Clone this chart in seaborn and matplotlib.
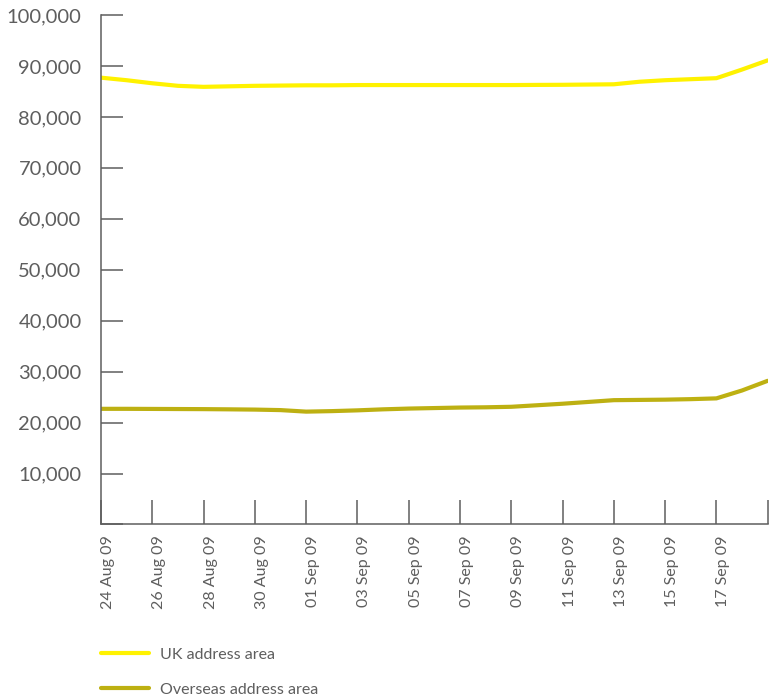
import pandas as pd
import matplotlib.pyplot as plt
import seaborn as sns

# Datos diarios
dates = pd.date_range('2009-08-24', '2009-09-19', freq='D')

uk_values = [87700, 87200, 86600, 86100, 85900, 86000, 86100, 86150, 86200,
             86200, 86250, 86250, 86250, 86250, 86250, 86250, 86250, 86280,
             86300, 86350, 86400, 86900, 87200, 87400, 87600, 89300, 91100]

overseas_values = [22700, 22700, 22680, 22660, 22640, 22600, 22550, 22450, 22150,
                   22250, 22400, 22600, 22750, 22850, 22950, 23000, 23100, 23400,
                   23700, 24050, 24400, 24450, 24500, 24600, 24750, 26300, 28200]

series_names = ['UK address area', 'Overseas address area']
series_colors = ['#FFF200', '#BDB012']

tick_dates = pd.date_range('2009-08-24', '2009-09-19', freq='2D')
tick_labels = [d.strftime('%d %b %y') for d in tick_dates[:-1]] + ['']
y_ticks = list(range(0, 100001, 10000))
y_labels = [''] + [f'{v:,}' for v in y_ticks[1:]]

df = pd.DataFrame({
    'date': list(dates) * 2,
    'value': uk_values + overseas_values,
    'series': [series_names[0]] * len(dates) + [series_names[1]] * len(dates),
})

sns.set_style('white')
plt.rcParams['font.family'] = ['Lato', 'DejaVu Sans']
grey = '#5e5e5e'

fig = plt.figure(figsize=(7.77, 6.98), dpi=100)
ax = fig.add_axes([0.13, 0.2486, 0.858, 0.7299])

sns.lineplot(data=df, x='date', y='value', hue='series',
             palette=dict(zip(series_names, series_colors)),
             linewidth=3, ax=ax)

ax.set_xlim(dates[0], dates[-1])
ax.set_ylim(0, 100000)
ax.set_xticks(tick_dates)
ax.set_xticklabels(tick_labels, rotation=90, ha='left', va='top',
                   fontsize=11.5, color=grey)
ax.set_yticks(y_ticks)
ax.set_yticklabels(y_labels, fontsize=14.5, color=grey)
ax.set_xlabel('')
ax.set_ylabel('')

ax.tick_params(axis='x', bottom=True, direction='in', length=17, width=1.1,
               color=grey, pad=8)
ax.tick_params(axis='y', left=True, direction='in', length=16, width=1.1,
               color=grey, pad=14)

for side in ['top', 'right']:
    ax.spines[side].set_visible(False)
for side in ['left', 'bottom']:
    ax.spines[side].set_color(grey)
    ax.spines[side].set_linewidth(1.1)

leg = ax.legend(loc='upper left', bbox_to_anchor=(0, -0.242), frameon=False,
                fontsize=11.5, handlelength=3.0, handletextpad=0.7,
                labelspacing=1.3, borderpad=0, borderaxespad=0)
for text in leg.get_texts():
    text.set_color(grey)

plt.savefig('out.png', dpi=100)
